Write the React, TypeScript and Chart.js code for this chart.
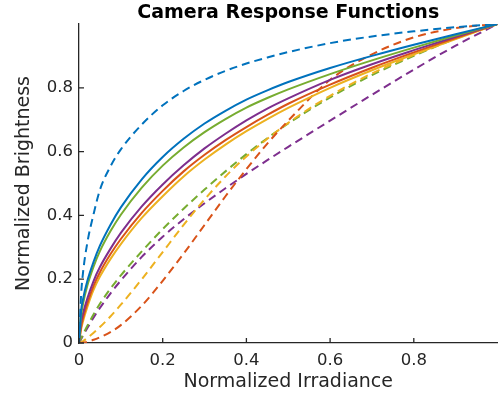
import React, { useEffect, useRef } from "react";
import { Chart, registerables } from "chart.js";

Chart.register(...registerables);

// shared irradiance samples
const xs = [0, 0.005, 0.01, 0.02, 0.035, 0.05, 0.075, 0.1, 0.15, 0.2, 0.25, 0.3, 0.35, 0.4, 0.45, 0.5, 0.6, 0.7, 0.8, 0.9, 1];

// solid curves
const solidBlue = [0, 0.1, 0.14, 0.195, 0.255, 0.305, 0.37, 0.425, 0.513, 0.583, 0.64, 0.688, 0.728, 0.763, 0.792, 0.818, 0.862, 0.9, 0.935, 0.968, 1];
const solidGreen = [0, 0.085, 0.125, 0.18, 0.24, 0.288, 0.35, 0.402, 0.487, 0.556, 0.613, 0.661, 0.702, 0.738, 0.768, 0.795, 0.843, 0.886, 0.926, 0.964, 1];
const solidPurple = [0, 0.065, 0.095, 0.14, 0.195, 0.238, 0.295, 0.345, 0.428, 0.497, 0.557, 0.61, 0.656, 0.698, 0.735, 0.767, 0.825, 0.874, 0.918, 0.96, 1];
const solidOrange = [0, 0.05, 0.08, 0.125, 0.18, 0.222, 0.278, 0.326, 0.408, 0.477, 0.538, 0.59, 0.636, 0.677, 0.715, 0.75, 0.81, 0.863, 0.911, 0.956, 1];
const solidYellow = [0, 0.043, 0.07, 0.113, 0.167, 0.208, 0.263, 0.31, 0.392, 0.46, 0.522, 0.575, 0.622, 0.664, 0.702, 0.737, 0.8, 0.855, 0.905, 0.953, 1];

// dashed curves
const dashedBlue = [0, 0.15, 0.225, 0.315, 0.405, 0.48, 0.553, 0.607, 0.685, 0.745, 0.79, 0.825, 0.853, 0.876, 0.895, 0.912, 0.94, 0.961, 0.977, 0.99, 1];
const dashedOrange = [0, 0.0003, 0.001, 0.004, 0.01, 0.018, 0.034, 0.056, 0.117, 0.195, 0.28, 0.37, 0.46, 0.545, 0.625, 0.697, 0.825, 0.905, 0.958, 0.987, 1];
const dashedYellow = [0, 0.002, 0.006, 0.016, 0.032, 0.05, 0.083, 0.12, 0.2, 0.285, 0.37, 0.45, 0.522, 0.585, 0.64, 0.69, 0.775, 0.845, 0.903, 0.955, 1];
const dashedGreen = [0, 0.014, 0.028, 0.054, 0.09, 0.123, 0.17, 0.212, 0.287, 0.357, 0.421, 0.481, 0.538, 0.592, 0.642, 0.688, 0.77, 0.84, 0.9, 0.954, 1];
const dashedPurple = [0, 0.012, 0.024, 0.047, 0.08, 0.11, 0.155, 0.196, 0.27, 0.333, 0.388, 0.438, 0.485, 0.53, 0.573, 0.615, 0.697, 0.778, 0.857, 0.932, 1];

const tickValues = [0, 0.2, 0.4, 0.6, 0.8];

const BLUE = "#0072BD";
const ORANGE = "#D95319";
const YELLOW = "#EDB120";
const PURPLE = "#7E2F8E";
const GREEN = "#77AC30";
const AXIS = "#262626";
const FONT = "DejaVu Sans";

const series: [number[], string, boolean][] = [
  [solidBlue, BLUE, false],
  [solidGreen, GREEN, false],
  [solidPurple, PURPLE, false],
  [solidOrange, ORANGE, false],
  [solidYellow, YELLOW, false],
  [dashedBlue, BLUE, true],
  [dashedOrange, ORANGE, true],
  [dashedYellow, YELLOW, true],
  [dashedGreen, GREEN, true],
  [dashedPurple, PURPLE, true],
];

const inwardTicks = {
  id: "inwardTicks",
  afterDraw(chart: any) {
    const { ctx, chartArea, scales } = chart;
    ctx.save();
    ctx.strokeStyle = AXIS;
    ctx.lineWidth = 1.3;
    ctx.beginPath();
    for (const v of tickValues) {
      const px = scales.x.getPixelForValue(v);
      ctx.moveTo(px, chartArea.bottom);
      ctx.lineTo(px, chartArea.bottom - 5);
      const py = scales.y.getPixelForValue(v);
      ctx.moveTo(chartArea.left, py);
      ctx.lineTo(chartArea.left + 5, py);
    }
    ctx.stroke();
    ctx.restore();
  },
};

export default function App() {
  const ref = useRef<HTMLCanvasElement | null>(null);
  useEffect(() => {
    if (!ref.current) return;
    const chart = new Chart(ref.current, {
      type: "line",
      data: {
        datasets: series.map(([arr, color, dashed]) => ({
          data: xs.map((x, i) => ({ x, y: arr[i] })),
          borderColor: color,
          backgroundColor: color,
          borderWidth: 2,
          borderDash: dashed ? [8, 5] : [],
          pointRadius: 0,
          fill: false,
          cubicInterpolationMode: "monotone" as const,
        })),
      },
      options: {
        animation: false,
        responsive: false,
        layout: { padding: { left: 0, right: 3.5, top: 0, bottom: 0 } },
        plugins: {
          legend: { display: false },
          tooltip: { enabled: false },
          title: {
            display: true,
            text: "Camera Response Functions",
            color: "#000",
            font: { family: FONT, size: 19, weight: "bold" },
            padding: { top: 1.2, bottom: 0 },
            fullSize: false,
          },
        },
        scales: {
          x: {
            type: "linear",
            min: 0,
            max: 1,
            afterBuildTicks: (s: any) => {
              s.ticks = tickValues.map((v) => ({ value: v }));
            },
            afterFit: (s: any) => {
              s.height = 55;
            },
            grid: { drawOnChartArea: false, drawTicks: false },
            border: { display: true, color: AXIS, width: 1.3 },
            ticks: {
              color: AXIS,
              font: { family: FONT, size: 16.5 },
              padding: 8,
              maxRotation: 0,
              callback: (v: any) => String(v),
            },
            title: {
              display: true,
              text: "Normalized Irradiance",
              color: AXIS,
              font: { family: FONT, size: 19 },
              padding: { top: 0, bottom: 4.6 },
            },
          },
          y: {
            type: "linear",
            min: 0,
            max: 1,
            afterBuildTicks: (s: any) => {
              s.ticks = tickValues.map((v) => ({ value: v }));
            },
            afterFit: (s: any) => {
              s.width = 79;
            },
            grid: { drawOnChartArea: false, drawTicks: false },
            border: { display: true, color: AXIS, width: 1.3 },
            ticks: {
              color: AXIS,
              font: { family: FONT, size: 16.5 },
              padding: 6,
              callback: (v: any) => String(v),
            },
            title: {
              display: true,
              text: "Normalized Brightness",
              color: AXIS,
              font: { family: FONT, size: 19 },
              padding: { top: 13, bottom: 0 },
            },
          },
        },
      },
      plugins: [inwardTicks],
    });
    return () => chart.destroy();
  }, []);
  return (
    <div style={{ position: "absolute", left: 0, top: 0, width: 501, height: 398, background: "#fff" }}>
      <canvas ref={ref} width={501} height={398} style={{ width: 501, height: 398 }} />
    </div>
  );
}
